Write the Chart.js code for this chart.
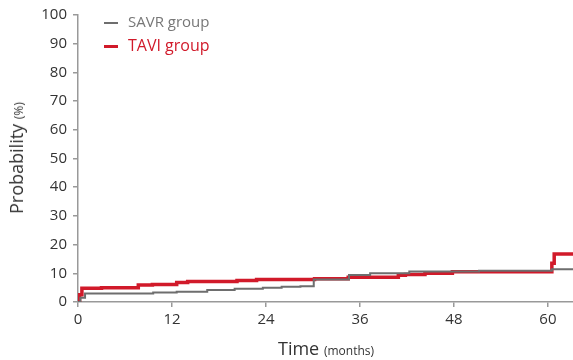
<!DOCTYPE html>
<html>
<head>
<meta charset="utf-8">
<script src="https://cdn.jsdelivr.net/npm/chart.js@4"></script>
<style>
    html, body { margin: 0; padding: 0; background: #fff; }
    #wrap { position: relative; width: 573px; height: 360px; font-family: "Open Sans", sans-serif; }
    #chart { position: absolute; left: 0; top: 0; }
    .leg { position: absolute; left: 104px; white-space: nowrap; }
    .leg i { display: inline-block; width: 14px; vertical-align: middle; margin-right: 10px; }
    #ytitle { position: absolute; left: 16px; top: 158px; transform: translate(-50%, -50%) rotate(-90deg); white-space: nowrap; color: #333; font-size: 18px; }
    #xtitle { position: absolute; left: 278px; top: 336px; white-space: nowrap; color: #333; font-size: 18px; }
    small { font-size: 12px; }
</style>
</head>
<body>
<div id="wrap">
    <canvas id="chart" width="573" height="360"></canvas>
    <div class="leg" style="top:11px; color:#777; font-size:15px;"><i style="height:2px; background:#6e6e6e;"></i>SAVR group</div>
    <div class="leg" style="top:34px; color:#d11a2a; font-size:16px;"><i style="height:3px; background:#d11a2a;"></i>TAVI group</div>
    <div id="ytitle">Probability <small>(%)</small></div>
    <div id="xtitle">Time <small>(months)</small></div>
</div>
<script>
// Cumulative probability, step curves (time in months, value in %)
const savrMonths = [0, 0.3, 0.9, 9.6, 12.6, 16.5, 20, 23.6, 26, 28.4, 30.1, 34.6, 37.3, 42.3, 51.2, 60.5, 63.2];
const savrValues = [0, 1.5, 3.0, 3.3, 3.6, 4.2, 4.6, 5.0, 5.3, 5.5, 7.8, 9.4, 10.0, 10.6, 10.9, 11.4, 11.4];

const taviMonths = [0, 0.2, 0.5, 3, 7.7, 9.5, 12.6, 14, 20.3, 22.8, 30.2, 34.5, 40.9, 41.8, 44.3, 47.8, 60.5, 60.8, 63.2];
const taviValues = [0, 2.5, 4.8, 5.0, 5.9, 6.1, 6.8, 7.1, 7.5, 7.8, 8.1, 8.6, 9.3, 9.6, 10.0, 10.5, 13.5, 16.7, 16.7];

const yTicks = [0, 10, 20, 30, 40, 50, 60, 70, 80, 90, 100];
const xTicks = [0, 12, 24, 36, 48, 60];

const toPoints = (xs, ys) => xs.map((x, i) => ({ x: x, y: ys[i] }));

const axisColor = '#999';
const labelFont = { family: '"Open Sans", sans-serif', size: 15 };

new Chart(document.getElementById('chart'), {
    type: 'line',
    data: {
        datasets: [
            {
                label: 'SAVR group',
                data: toPoints(savrMonths, savrValues),
                borderColor: '#6e6e6e',
                borderWidth: 2,
                stepped: 'before',
                pointRadius: 0
            },
            {
                label: 'TAVI group',
                data: toPoints(taviMonths, taviValues),
                borderColor: '#d11a2a',
                borderWidth: 3.5,
                stepped: 'before',
                pointRadius: 0
            }
        ]
    },
    options: {
        responsive: false,
        animation: false,
        layout: { padding: { top: 15, right: 0, left: 0, bottom: 0 } },
        plugins: { legend: { display: false }, tooltip: { enabled: false } },
        scales: {
            x: {
                type: 'linear',
                min: 0,
                max: 63.2,
                afterBuildTicks: s => { s.ticks = xTicks.map(v => ({ value: v })); },
                afterFit: s => { s.height = 58; },
                border: { color: axisColor, width: 1.5 },
                grid: { drawOnChartArea: false, drawTicks: true, tickLength: 5, color: axisColor, lineWidth: 1.5 },
                ticks: { color: '#333', font: labelFont, padding: 4, maxRotation: 0 }
            },
            y: {
                min: 0,
                max: 100,
                afterBuildTicks: s => { s.ticks = yTicks.map(v => ({ value: v })); },
                afterFit: s => { s.width = 78; },
                border: { color: axisColor, width: 1.5 },
                grid: { drawOnChartArea: false, drawTicks: true, tickLength: 5, color: axisColor, lineWidth: 1.5 },
                ticks: { color: '#333', font: labelFont, padding: 6 }
            }
        }
    }
});
</script>
</body>
</html>
